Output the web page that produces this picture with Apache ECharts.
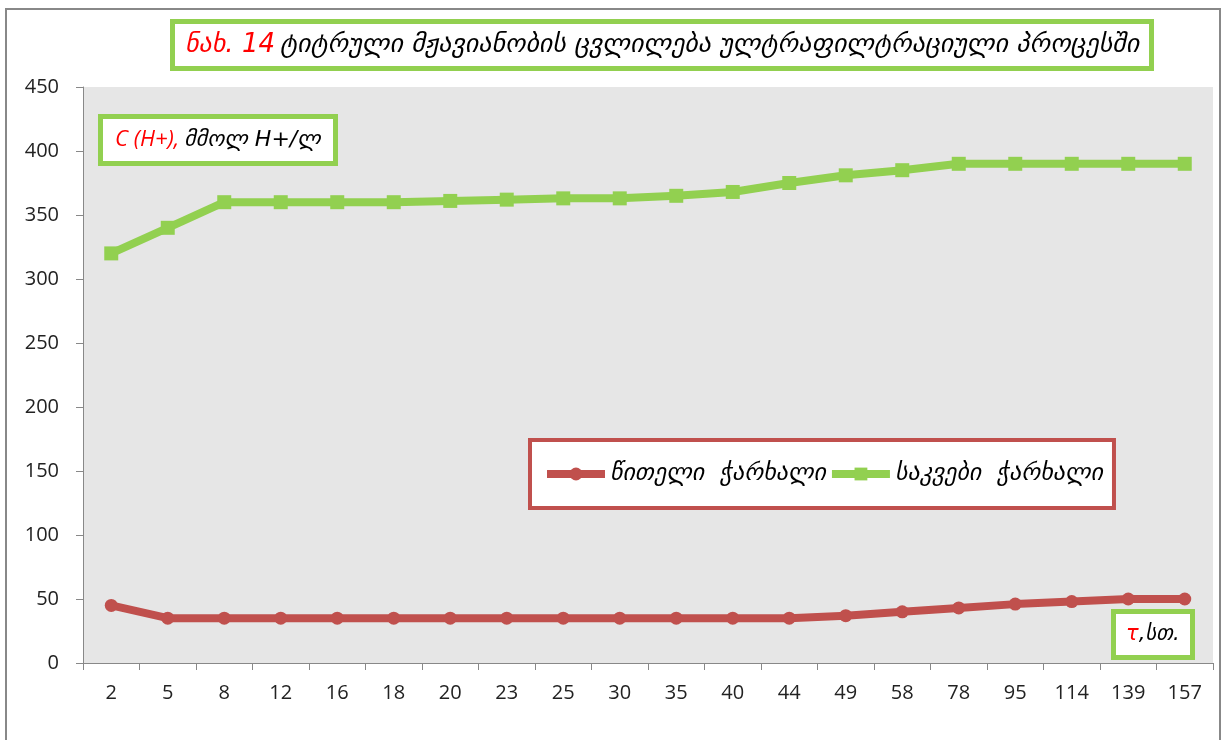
<!DOCTYPE html>
<html>
<head>
<meta charset="utf-8">
<script src="https://cdn.jsdelivr.net/npm/echarts@6/dist/echarts.min.js"></script>
<style>
html,body{margin:0;padding:0;background:#fff;}
#frame{position:absolute;left:5px;top:8px;width:1216px;height:740px;border:2px solid #888;box-sizing:border-box;border-bottom:none;}
#chart{position:absolute;left:0;top:0;width:1227px;height:740px;}
</style>
</head>
<body>
<div id="frame"></div>
<div id="chart"></div>
<script>
const categories = ['2','5','8','12','16','18','20','23','25','30','35','40','44','49','58','78','95','114','139','157'];
const redBeet = [45,35,35,35,35,35,35,35,35,35,35,35,35,37,40,43,46,48,50,50];
const fodderBeet = [320,340,360,360,360,360,361,362,363,363,365,368,375,381,385,390,390,390,390,390];
const yTicks = {min:0, max:450, interval:50};
const seriesNames = ['წითელი  ჭარხალი','საკვები  ჭარხალი'];

const geoFont = '"DejaVu Sans", "Noto Sans", sans-serif';
const numFont = '"Open Sans", "Liberation Sans", sans-serif';

function rs(color, size, fam) {
  return {color: color, fontSize: size, fontStyle: 'italic', fontWeight: 'normal', fontFamily: fam};
}

const chart = echarts.init(document.getElementById('chart'), null, {renderer:'canvas'});
chart.setOption({
  backgroundColor: 'transparent',
  animation: false,
  title: [
    {
      text: '{r|ნახ. 14} {b|ტიტრული მჟავიანობის ცვლილება ულტრაფილტრაციული პროცესში}',
      left: 172, top: 21,
      padding: [11, 13, 11, 13],
      backgroundColor: '#fff',
      borderColor: '#92d050', borderWidth: 5,
      textStyle: {
        fontWeight: 'normal',
        rich: { r: rs('#ff0000', 26, geoFont), b: rs('#000', 26, geoFont) }
      }
    },
    {
      text: '{r|C (H+),} {b|მმოლ H+/ლ}',
      left: 100, top: 116,
      padding: [13, 15, 13, 15],
      backgroundColor: '#fff',
      borderColor: '#92d050', borderWidth: 5,
      textStyle: {
        fontWeight: 'normal',
        rich: { r: rs('#ff0000', 22, numFont), b: rs('#000', 22, geoFont) }
      }
    },
    {
      text: '{r|τ}{b|,სთ.}',
      left: 1113, top: 611,
      padding: [13, 13, 13, 13],
      backgroundColor: '#fff',
      borderColor: '#92d050', borderWidth: 5,
      textStyle: {
        fontWeight: 'normal',
        rich: { r: rs('#ff0000', 21, geoFont), b: rs('#000', 21, geoFont) }
      }
    }
  ],
  legend: {
    left: 530, top: 440,
    padding: [22, 11, 22, 13],
    itemGap: 2,
    itemWidth: 58, itemHeight: 16,
    backgroundColor: '#fff',
    borderColor: '#c0504d', borderWidth: 4,
    textStyle: {fontSize: 24, fontStyle:'italic', fontWeight:'normal', fontFamily: geoFont, color:'#000'},
    lineStyle: {width: 8},
    data: seriesNames
  },
  grid: {left: 83, right: 14, top: 87, bottom: 77, show: true, backgroundColor: '#e6e6e6', borderWidth: 0},
  xAxis: {
    type: 'category',
    data: categories,
    boundaryGap: true,
    axisLine: {lineStyle: {color:'#888', width:1}},
    axisTick: {show:true, alignWithLabel:false, length:7, lineStyle:{color:'#888'}},
    axisLabel: {fontSize: 20, color:'#222', fontFamily: numFont, margin: 20}
  },
  yAxis: {
    type: 'value',
    min: yTicks.min, max: yTicks.max, interval: yTicks.interval,
    axisLine: {show:true, lineStyle: {color:'#888', width:1}},
    axisTick: {show:true, length:7, lineStyle:{color:'#888'}},
    splitLine: {show:false},
    axisLabel: {fontSize: 20, color:'#222', fontFamily: numFont, margin: 24}
  },
  series: [
    {
      name: seriesNames[0], type: 'line', data: redBeet,
      symbol: 'circle', symbolSize: 13,
      lineStyle: {color:'#c0504d', width: 8},
      itemStyle: {color:'#c0504d'},
      z: 3
    },
    {
      name: seriesNames[1], type: 'line', data: fodderBeet,
      symbol: 'rect', symbolSize: 14,
      lineStyle: {color:'#92d050', width: 8},
      itemStyle: {color:'#92d050'},
      z: 3
    }
  ]
});
</script>
</body>
</html>
